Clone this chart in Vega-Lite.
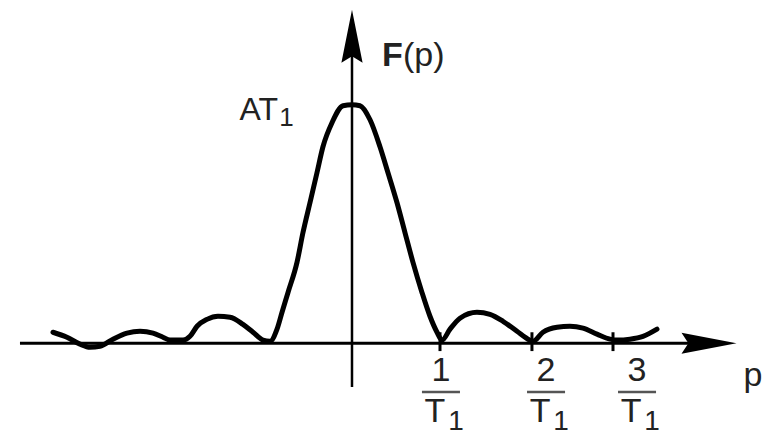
{
  "$schema": "https://vega.github.io/schema/vega-lite/v6.json",
  "width": 767,
  "height": 436,
  "autosize": {"type": "fit", "contains": "padding"},
  "padding": 0,
  "background": "white",
  "config": {"view": {"stroke": null}},
  "datasets": {
    "curve": [
      {"p": -3.398, "v": 0.046}, {"p": -3.239, "v": 0.025}, {"p": -3.091, "v": -0.004},
      {"p": -2.977, "v": -0.017}, {"p": -2.864, "v": -0.013}, {"p": -2.716, "v": 0.017},
      {"p": -2.557, "v": 0.042}, {"p": -2.409, "v": 0.05}, {"p": -2.261, "v": 0.042},
      {"p": -2.148, "v": 0.025}, {"p": -2.068, "v": 0.013}, {"p": -1.92, "v": 0.013},
      {"p": -1.841, "v": 0.029}, {"p": -1.761, "v": 0.071}, {"p": -1.648, "v": 0.1},
      {"p": -1.523, "v": 0.113}, {"p": -1.386, "v": 0.109}, {"p": -1.239, "v": 0.079},
      {"p": -1.125, "v": 0.046}, {"p": -1.011, "v": 0.013}, {"p": -0.932, "v": 0.008},
      {"p": -0.852, "v": 0.059}, {"p": -0.795, "v": 0.13}, {"p": -0.727, "v": 0.213},
      {"p": -0.625, "v": 0.339}, {"p": -0.557, "v": 0.464}, {"p": -0.477, "v": 0.59},
      {"p": -0.398, "v": 0.715}, {"p": -0.33, "v": 0.824}, {"p": -0.227, "v": 0.925},
      {"p": -0.102, "v": 0.996}, {"p": 0, "v": 1.0}, {"p": 0.091, "v": 0.996},
      {"p": 0.205, "v": 0.937}, {"p": 0.318, "v": 0.824}, {"p": 0.409, "v": 0.715},
      {"p": 0.511, "v": 0.59}, {"p": 0.602, "v": 0.464}, {"p": 0.693, "v": 0.339},
      {"p": 0.795, "v": 0.213}, {"p": 0.886, "v": 0.113}, {"p": 0.966, "v": 0.046},
      {"p": 1.023, "v": 0.013}, {"p": 1.114, "v": 0.059}, {"p": 1.227, "v": 0.105},
      {"p": 1.42, "v": 0.13}, {"p": 1.568, "v": 0.121}, {"p": 1.716, "v": 0.092},
      {"p": 1.875, "v": 0.05}, {"p": 2.0, "v": 0.017}, {"p": 2.057, "v": 0.008},
      {"p": 2.17, "v": 0.046}, {"p": 2.33, "v": 0.067}, {"p": 2.477, "v": 0.071},
      {"p": 2.625, "v": 0.063}, {"p": 2.784, "v": 0.038}, {"p": 2.932, "v": 0.017},
      {"p": 3.011, "v": 0.013}, {"p": 3.159, "v": 0.017}, {"p": 3.307, "v": 0.029},
      {"p": 3.466, "v": 0.059}
    ],
    "hAxis": [{"p": -3.773, "p2": 3.841, "v": 0}],
    "vAxis": [{"p": 0, "v": -0.184, "v2": 1.209}],
    "hArrow": [{"p": 4.057, "v": 0}],
    "vArrow": [{"p": 0, "v": 1.287}],
    "ticks": [
      {"p": 1.0, "v": 0.046, "v2": -0.033},
      {"p": 2.045, "v": 0.046, "v2": -0.033},
      {"p": 2.966, "v": 0.046, "v2": -0.033}
    ],
    "numerators": [
      {"p": 1.011, "v": -0.117, "t": "1"},
      {"p": 2.205, "v": -0.117, "t": "2"},
      {"p": 3.239, "v": -0.117, "t": "3"}
    ],
    "bars": [
      {"p": 0.795, "p2": 1.227, "v": -0.205},
      {"p": 1.989, "p2": 2.421, "v": -0.205},
      {"p": 3.023, "p2": 3.455, "v": -0.205}
    ],
    "denoms": [
      {"p": 1.011, "v": -0.289, "t": "T"},
      {"p": 2.205, "v": -0.289, "t": "T"},
      {"p": 3.239, "v": -0.289, "t": "T"}
    ],
    "subs": [
      {"p": 1.011, "v": -0.33, "t": "1"},
      {"p": 2.205, "v": -0.33, "t": "1"},
      {"p": 3.239, "v": -0.33, "t": "1"}
    ],
    "at": [{"p": -0.841, "v": 0.979, "t": "AT"}],
    "atSub": [{"p": -0.745, "v": 0.943, "t": "1"}],
    "fBold": [{"p": 0.341, "v": 1.205, "t": "F"}],
    "fRest": [{"p": 0.58, "v": 1.205, "t": "(p)"}],
    "pLabel": [{"p": 4.557, "v": -0.18, "t": "p"}]
  },
  "encoding": {
    "x": {"field": "p", "type": "quantitative", "scale": {"domain": [-4, 4.716], "nice": false, "zero": false}, "axis": null},
    "y": {"field": "v", "type": "quantitative", "scale": {"domain": [-0.3849, 1.4393], "nice": false, "zero": false}, "axis": null}
  },
  "layer": [
    {
      "data": {"name": "hAxis"},
      "mark": {"type": "rule", "color": "black", "strokeWidth": 3},
      "encoding": {"x2": {"field": "p2"}}
    },
    {
      "data": {"name": "vAxis"},
      "mark": {"type": "rule", "color": "black", "strokeWidth": 2.5},
      "encoding": {"y2": {"field": "v2"}}
    },
    {
      "data": {"name": "ticks"},
      "mark": {"type": "rule", "color": "black", "strokeWidth": 3},
      "encoding": {"y2": {"field": "v2"}}
    },
    {
      "data": {"name": "hArrow"},
      "mark": {"type": "point", "shape": "M1,0L-1,0.38L-0.75,0L-1,-0.38Z", "size": 3025, "filled": true, "color": "black", "opacity": 1, "strokeWidth": 0}
    },
    {
      "data": {"name": "vArrow"},
      "mark": {"type": "point", "shape": "M0,-1L0.4,1L0,0.75L-0.4,1Z", "size": 2809, "filled": true, "color": "black", "opacity": 1, "strokeWidth": 0}
    },
    {
      "data": {"name": "curve"},
      "mark": {"type": "line", "color": "black", "strokeWidth": 5, "interpolate": "monotone", "strokeCap": "round", "strokeJoin": "round"}
    },
    {
      "data": {"name": "numerators"},
      "mark": {"type": "text", "font": "Liberation Sans", "fontSize": 34, "align": "center", "baseline": "middle", "color": "#222"},
      "encoding": {"text": {"field": "t"}}
    },
    {
      "data": {"name": "bars"},
      "mark": {"type": "rule", "color": "#555", "strokeWidth": 2.5},
      "encoding": {"x2": {"field": "p2"}}
    },
    {
      "data": {"name": "denoms"},
      "mark": {"type": "text", "font": "Liberation Sans", "fontSize": 34, "align": "center", "baseline": "middle", "dx": -6, "color": "#222"},
      "encoding": {"text": {"field": "t"}}
    },
    {
      "data": {"name": "subs"},
      "mark": {"type": "text", "font": "Liberation Sans", "fontSize": 28, "align": "center", "baseline": "middle", "dx": 15, "color": "#222"},
      "encoding": {"text": {"field": "t"}}
    },
    {
      "data": {"name": "at"},
      "mark": {"type": "text", "font": "Liberation Sans", "fontSize": 32, "align": "right", "baseline": "middle", "color": "#222"},
      "encoding": {"text": {"field": "t"}}
    },
    {
      "data": {"name": "atSub"},
      "mark": {"type": "text", "font": "Liberation Sans", "fontSize": 26, "align": "center", "baseline": "middle", "color": "#222"},
      "encoding": {"text": {"field": "t"}}
    },
    {
      "data": {"name": "fBold"},
      "mark": {"type": "text", "font": "Liberation Sans", "fontSize": 34, "fontWeight": "bold", "align": "left", "baseline": "middle", "color": "#222"},
      "encoding": {"text": {"field": "t"}}
    },
    {
      "data": {"name": "fRest"},
      "mark": {"type": "text", "font": "Liberation Sans", "fontSize": 34, "align": "left", "baseline": "middle", "color": "#222"},
      "encoding": {"text": {"field": "t"}}
    },
    {
      "data": {"name": "pLabel"},
      "mark": {"type": "text", "font": "Liberation Sans", "fontSize": 34, "align": "center", "baseline": "alphabetic", "color": "#222"},
      "encoding": {"text": {"field": "t"}}
    }
  ]
}
